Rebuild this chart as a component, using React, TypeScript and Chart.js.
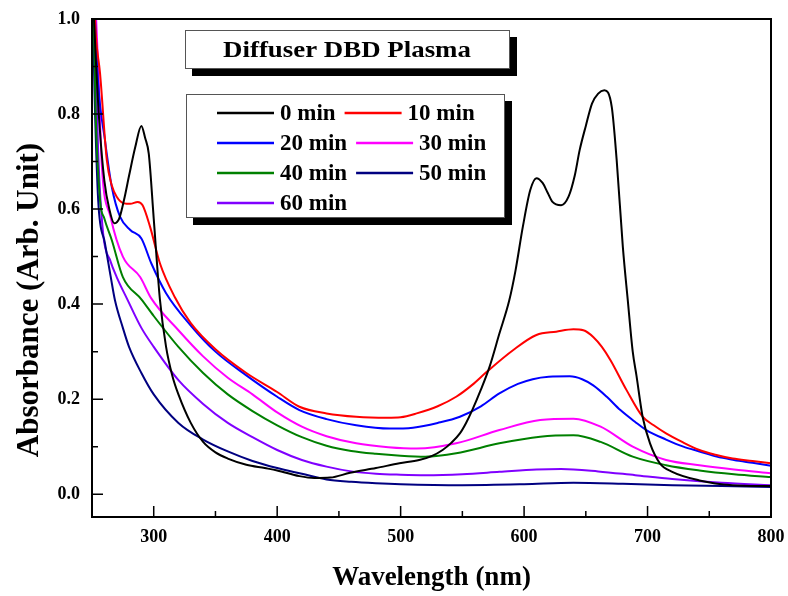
import React, { useEffect, useRef } from 'react';
import { Chart, registerables } from 'chart.js';

Chart.register(...registerables);

const FONT = "'Liberation Serif', 'Times New Roman', serif";

// Series labels and colours
const seriesLabels = ['0 min', '10 min', '20 min', '30 min', '40 min', '50 min', '60 min'];
const seriesColors = ['#000000', '#ff0000', '#0000ff', '#ff00ff', '#008000', '#000080', '#8000ff'];
const legendRows = [[0, 1], [2, 3], [4, 5], [6]];

// Axis ticks
const xTickValues = [300, 400, 500, 600, 700, 800];
const xMinorValues = [350, 450, 550, 650, 750];
const yTickValues = [0, 0.2, 0.4, 0.6, 0.8, 1.0];
const yMinorValues = [0.1, 0.3, 0.5, 0.7, 0.9];

// 0 min
const wl0 = [250, 253, 256, 260, 264, 268, 272, 276, 280, 285, 290, 293, 296, 300, 305, 310, 315, 320, 330, 340, 350, 360, 375, 390, 400, 418, 430, 443, 459, 480, 499, 515, 525, 534, 541, 548, 553, 558, 565, 572, 580, 588, 593, 599, 605, 610, 615, 619, 623, 630, 636, 641, 645, 650, 655, 660, 665, 671, 675, 680, 684, 688, 691, 696, 702, 710, 720, 742, 769, 800];
const abs0 = [1.1, 0.92, 0.78, 0.66, 0.6, 0.57, 0.58, 0.62, 0.67, 0.73, 0.775, 0.75, 0.716, 0.58, 0.41, 0.31, 0.25, 0.21, 0.15, 0.11, 0.088, 0.075, 0.062, 0.055, 0.05, 0.038, 0.034, 0.035, 0.045, 0.055, 0.065, 0.072, 0.08, 0.093, 0.108, 0.128, 0.15, 0.177, 0.22, 0.268, 0.338, 0.408, 0.47, 0.563, 0.64, 0.665, 0.655, 0.635, 0.615, 0.608, 0.626, 0.67, 0.724, 0.775, 0.822, 0.843, 0.85, 0.815, 0.703, 0.52, 0.408, 0.3, 0.25, 0.163, 0.107, 0.065, 0.047, 0.029, 0.019, 0.017];

// 10 min
const wl10 = [250, 253, 256.5, 262, 266, 270, 276, 281, 287, 291, 297, 305, 317, 330, 350, 375, 400, 418, 440, 464, 489, 500, 513, 530, 545, 558, 570, 591, 610, 626, 640, 648, 656, 663, 670, 683, 696, 705, 715, 728, 742, 755, 769, 785, 800];
const abs10 = [1.15, 0.97, 0.886, 0.703, 0.65, 0.626, 0.612, 0.611, 0.615, 0.608, 0.563, 0.486, 0.415, 0.36, 0.305, 0.255, 0.215, 0.184, 0.17, 0.163, 0.161, 0.162, 0.17, 0.185, 0.205, 0.23, 0.258, 0.303, 0.335, 0.342, 0.347, 0.345, 0.331, 0.31, 0.282, 0.219, 0.163, 0.145, 0.128, 0.11, 0.093, 0.083, 0.075, 0.07, 0.065];

// 20 min
const wl20 = [250, 255, 260.5, 266, 272.7, 281, 290, 298, 310, 330, 350, 375, 400, 418, 440, 464, 491, 510, 530, 548, 565, 580, 595, 607, 620, 637, 647, 656, 667, 678, 690, 699, 715, 729, 742, 756, 770, 785, 800];
const abs20 = [1.15, 0.865, 0.745, 0.647, 0.584, 0.556, 0.538, 0.486, 0.423, 0.355, 0.3, 0.25, 0.205, 0.177, 0.158, 0.145, 0.138, 0.14, 0.15, 0.163, 0.185, 0.212, 0.232, 0.242, 0.247, 0.248, 0.242, 0.229, 0.205, 0.177, 0.152, 0.135, 0.115, 0.1, 0.09, 0.079, 0.072, 0.066, 0.06];

// 30 min
const wl30 = [250, 255, 258, 265, 275, 289, 298, 320, 340, 360, 380, 400, 420, 440, 464, 490, 513, 545, 580, 613, 640, 662, 688, 715, 742, 770, 800];
const abs30 = [1.2, 0.9, 0.69, 0.584, 0.5, 0.457, 0.412, 0.345, 0.29, 0.245, 0.21, 0.172, 0.142, 0.122, 0.107, 0.099, 0.096, 0.107, 0.135, 0.156, 0.159, 0.142, 0.1, 0.072, 0.061, 0.052, 0.044];

// 40 min
const wl40 = [250, 253, 256.5, 260, 266, 275, 290, 300, 320, 340, 360, 380, 400, 420, 440, 460, 480, 500, 520, 545, 580, 613, 640, 662, 688, 715, 742, 770, 800];
const abs40 = [1.2, 0.8, 0.619, 0.58, 0.535, 0.457, 0.41, 0.375, 0.31, 0.255, 0.21, 0.175, 0.145, 0.12, 0.102, 0.091, 0.085, 0.081, 0.079, 0.086, 0.107, 0.121, 0.124, 0.11, 0.079, 0.061, 0.05, 0.042, 0.036];

// 50 min
const wl50 = [250, 252, 255, 260.5, 265, 268.6, 275, 280, 290, 300, 320, 340, 360, 380, 400, 420, 440, 460, 480, 500, 550, 600, 640, 680, 720, 760, 800];
const abs50 = [1.1, 0.85, 0.619, 0.528, 0.46, 0.408, 0.35, 0.31, 0.255, 0.21, 0.15, 0.115, 0.09, 0.07, 0.055, 0.043, 0.031, 0.026, 0.023, 0.021, 0.019, 0.021, 0.024, 0.022, 0.019, 0.017, 0.015];

// 60 min
const wl60 = [250, 255, 259, 265, 270, 279, 290, 300, 320, 340, 360, 380, 400, 420, 440, 460, 480, 500, 520, 550, 580, 610, 630, 660, 690, 720, 760, 800];
const abs60 = [1.2, 0.72, 0.549, 0.49, 0.457, 0.408, 0.35, 0.31, 0.24, 0.19, 0.15, 0.12, 0.093, 0.072, 0.058, 0.048, 0.043, 0.041, 0.04, 0.042, 0.047, 0.052, 0.053, 0.048, 0.04, 0.032, 0.024, 0.019];

const seriesWl = [wl0, wl10, wl20, wl30, wl40, wl50, wl60];
const seriesAbs = [abs0, abs10, abs20, abs30, abs40, abs50, abs60];

const chartTitle = 'Diffuser DBD Plasma';
const xTitle = 'Wavelength (nm)';
const yTitle = 'Absorbance (Arb. Unit)';

function shadowBox(ctx: CanvasRenderingContext2D, x: number, y: number, w: number, h: number, off: number) {
  ctx.fillStyle = '#000';
  ctx.fillRect(x + off, y + off, w, h);
  ctx.fillStyle = '#fff';
  ctx.fillRect(x, y, w, h);
  ctx.strokeStyle = '#555';
  ctx.lineWidth = 1;
  ctx.strokeRect(x + 0.5, y + 0.5, w - 1, h - 1);
}

const decorPlugin = {
  id: 'decor',
  afterDraw(chart: any) {
    const ctx: CanvasRenderingContext2D = chart.ctx;
    const { left, right, top, bottom } = chart.chartArea;
    const xs = chart.scales.x;
    const ys = chart.scales.y;
    ctx.save();
    // frame
    ctx.strokeStyle = '#000';
    ctx.lineWidth = 2;
    ctx.strokeRect(left, top, right - left, bottom - top);
    // inward ticks
    ctx.lineWidth = 1.5;
    ctx.beginPath();
    xTickValues.forEach((v) => {
      const p = xs.getPixelForValue(v);
      ctx.moveTo(p, bottom);
      ctx.lineTo(p, bottom - 11);
    });
    xMinorValues.forEach((v) => {
      const p = xs.getPixelForValue(v);
      ctx.moveTo(p, bottom);
      ctx.lineTo(p, bottom - 6);
    });
    yTickValues.forEach((v) => {
      const p = ys.getPixelForValue(v);
      ctx.moveTo(left, p);
      ctx.lineTo(left + 11, p);
    });
    yMinorValues.forEach((v) => {
      const p = ys.getPixelForValue(v);
      ctx.moveTo(left, p);
      ctx.lineTo(left + 6, p);
    });
    ctx.stroke();

    // y title
    ctx.save();
    ctx.translate(30, 300);
    ctx.rotate(-Math.PI / 2);
    ctx.fillStyle = '#000';
    ctx.font = `bold 31px ${FONT}`;
    ctx.textAlign = 'center';
    ctx.textBaseline = 'middle';
    ctx.fillText(yTitle, 0, 0);
    ctx.restore();

    // title box
    shadowBox(ctx, 185, 30, 325, 39, 7);
    ctx.save();
    ctx.translate(347, 51);
    ctx.scale(1.12, 1);
    ctx.fillStyle = '#000';
    ctx.font = `bold 24px ${FONT}`;
    ctx.textAlign = 'center';
    ctx.textBaseline = 'middle';
    ctx.fillText(chartTitle, 0, 0);
    ctx.restore();

    // legend box
    shadowBox(ctx, 186, 94, 319, 124, 7);
    ctx.font = `bold 23px ${FONT}`;
    ctx.textAlign = 'left';
    ctx.textBaseline = 'middle';
    legendRows.forEach((row, r) => {
      const cy = 113 + r * 30;
      let x = 217;
      row.forEach((idx) => {
        ctx.strokeStyle = seriesColors[idx];
        ctx.lineWidth = 2.5;
        ctx.beginPath();
        ctx.moveTo(x, cy);
        ctx.lineTo(x + 57, cy);
        ctx.stroke();
        x += 63;
        ctx.fillStyle = '#000';
        ctx.fillText(seriesLabels[idx], x, cy + 1);
        x += ctx.measureText(seriesLabels[idx]).width + 9;
      });
    });
    ctx.restore();
  },
};

export default function App() {
  const canvasRef = useRef<HTMLCanvasElement | null>(null);

  useEffect(() => {
    const canvas = canvasRef.current;
    if (!canvas) return;
    const datasets = seriesLabels.map((label, i) => ({
      label,
      data: seriesWl[i].map((x, j) => ({ x, y: seriesAbs[i][j] })),
      borderColor: seriesColors[i],
      backgroundColor: seriesColors[i],
      borderWidth: 2,
      pointRadius: 0,
      cubicInterpolationMode: 'monotone' as const,
      fill: false,
    }));
    const chart = new Chart(canvas, {
      type: 'line',
      data: { datasets },
      options: {
        responsive: false,
        animation: false,
        layout: { padding: { top: 19, right: 17, left: 0, bottom: 0 } },
        plugins: { legend: { display: false }, tooltip: { enabled: false } },
        scales: {
          x: {
            type: 'linear',
            min: 250,
            max: 800,
            grid: { display: false, drawTicks: false },
            border: { display: false },
            afterBuildTicks: (scale: any) => {
              scale.ticks = xTickValues.map((v) => ({ value: v }));
            },
            afterFit: (scale: any) => {
              scale.height = 79;
              scale.paddingLeft = 0;
              scale.paddingRight = 0;
            },
            ticks: {
              color: '#000',
              padding: 10,
              maxRotation: 0,
              autoSkip: false,
              font: { family: FONT, size: 18, weight: 'bold' },
              callback: (v: any) => String(v),
            },
            title: {
              display: true,
              text: xTitle,
              color: '#000',
              font: { family: FONT, size: 27, weight: 'bold' },
              padding: { top: 0, bottom: 2 },
            },
          },
          y: {
            type: 'linear',
            min: -0.048,
            max: 1.0,
            grid: { display: false, drawTicks: false },
            border: { display: false },
            afterBuildTicks: (scale: any) => {
              scale.ticks = yTickValues.map((v) => ({ value: v }));
            },
            afterFit: (scale: any) => {
              scale.width = 92;
              scale.paddingTop = 0;
              scale.paddingBottom = 0;
            },
            ticks: {
              color: '#000',
              padding: 12,
              autoSkip: false,
              font: { family: FONT, size: 18, weight: 'bold' },
              callback: (v: any) => Number(v).toFixed(1),
            },
          },
        },
      },
      plugins: [decorPlugin],
    });
    return () => chart.destroy();
  }, []);

  return (
    <div style={{ position: 'absolute', left: 0, top: 0, width: 788, height: 596, background: '#fff' }}>
      <canvas ref={canvasRef} width={788} height={596} style={{ width: 788, height: 596, display: 'block' }} />
    </div>
  );
}
